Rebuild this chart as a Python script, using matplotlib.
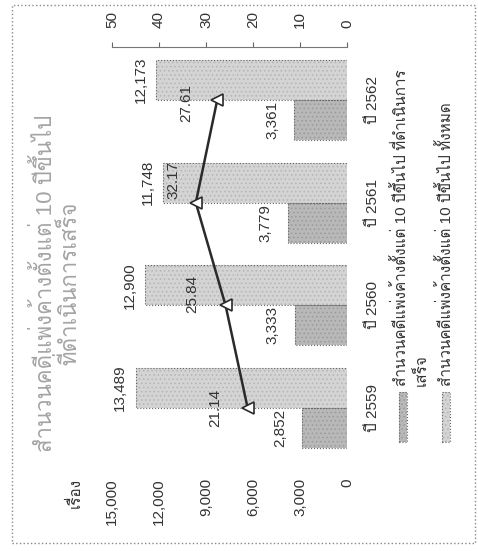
import numpy as np
import matplotlib
matplotlib.use('Agg')
import matplotlib.pyplot as plt
from matplotlib import font_manager
from matplotlib.ft2font import FT2Font
from matplotlib.patches import Rectangle

# ข้อมูล
years = ['ปี 2559', 'ปี 2560', 'ปี 2561', 'ปี 2562']
total = [13489, 12900, 11748, 12173]
done = [2852, 3333, 3779, 3361]
pct = [21.14, 25.84, 32.17, 27.61]
left_ticks = [0, 3000, 6000, 9000, 12000, 15000]
right_ticks = [0, 10, 20, 30, 40, 50]
title = 'สำนวนคดีแพ่งค้างตั้งแต่ 10 ปีขึ้นไป\nที่ดำเนินการเสร็จ'
unit = 'เรื่อง'
leg_done = ['สำนวนคดีแพ่งค้างตั้งแต่ 10 ปีขึ้นไป ที่ดำเนินการ', 'เสร็จ']
leg_total = 'สำนวนคดีแพ่งค้างตั้งแต่ 10 ปีขึ้นไป ทั้งหมด'

# หา font ที่มีอักษรไทย
thai = None
for f in font_manager.fontManager.ttflist:
    try:
        if FT2Font(f.fname).get_char_index(0x0E2A):
            thai = f.name
            break
    except Exception:
        pass
fams = ['Liberation Sans']
if thai:
    fams.append(thai)
fams.append('DejaVu Sans')
plt.rcParams['font.family'] = fams
plt.rcParams['hatch.linewidth'] = 0.6

W, H = 478, 551
fig = plt.figure(figsize=(W / 100, H / 100), dpi=100)

def fx(px):
    return px / W

def fy(py):
    return 1 - py / H

light = '#d4d4d4'
dark = '#b8b8b8'
txt = '#333333'
fs = 11

# พื้นที่กราฟ (หมุน 90 องศา)
top_px, bot_px = 47, 470
step = (408 - 100) / 3
ax = fig.add_axes([fx(112), fy(bot_px), (347 - 112) / W, (bot_px - top_px) / H])
ypos = np.arange(len(years))
w = 0.39
ax.barh(ypos + w / 2, total, height=w, color=light, edgecolor='#b4b4b4', hatch='....', linewidth=0)
ax.barh(ypos - w / 2, done, height=w, color=dark, edgecolor='#9a9a9a', hatch='....', linewidth=0)
ax.barh(ypos + w / 2, total, height=w, fill=False, edgecolor='#666666', linestyle=':', linewidth=0.8)
ax.barh(ypos - w / 2, done, height=w, fill=False, edgecolor='#666666', linestyle=':', linewidth=0.8)
ax.set_xlim(15000, 0)
ax.set_ylim((408 - bot_px) / step, (408 - top_px) / step)
ax.set_xticks(left_ticks)
ax.set_xticklabels(['{:,}'.format(v) for v in left_ticks], rotation=90, va='top', ha='center')
ax.tick_params(axis='x', length=0, pad=6, labelsize=fs, labelcolor=txt)
ax.yaxis.tick_right()
ax.set_yticks(ypos)
ax.set_yticklabels(years, rotation=90, va='center', ha='left')
ax.tick_params(axis='y', length=0, pad=14, labelsize=fs, labelcolor=txt)
for s in ax.spines.values():
    s.set_visible(False)
ax.patch.set_alpha(0)

for i in range(len(years)):
    ax.annotate('{:,}'.format(total[i]), (total[i], ypos[i] + w / 2), xytext=(-6, 0),
                textcoords='offset points', rotation=90, ha='right', va='center',
                fontsize=fs, color=txt)
    ax.annotate('{:,}'.format(done[i]), (done[i], ypos[i] - w / 2), xytext=(-11, 0),
                textcoords='offset points', rotation=90, ha='right', va='center',
                fontsize=fs, color=txt)

# แกนร้อยละ
ax2 = ax.twiny()
ax2.set_xlim(50, 0)
ax2.set_ylim(ax.get_ylim())
ax2.plot(pct, ypos, color='#2a2a2a', linewidth=1.8, marker='<', markersize=9,
         markerfacecolor='white', markeredgecolor='#2a2a2a', markeredgewidth=1.2)
pct_off = [(-18, 0), (-19, 8), (-11, 16), (-17, -2)]
for i in range(len(years)):
    ax2.annotate('{:.2f}'.format(pct[i]), (pct[i], ypos[i]), xytext=pct_off[i],
                 textcoords='offset points', rotation=90, ha='right', va='center',
                 fontsize=fs, color=txt)
ax2.set_xticks(right_ticks)
ax2.set_xticklabels([str(v) for v in right_ticks], rotation=90)
ax2.tick_params(axis='x', direction='out', length=3.5, width=0.8, color='#666666',
                pad=10, labelsize=fs, labelcolor=txt)
for k, s in ax2.spines.items():
    s.set_visible(k == 'top')
ax2.spines['top'].set_color('#777777')
ax2.spines['top'].set_linewidth(0.8)

# ชื่อกราฟ และหน่วย
fig.text(fx(57), fy(283), title, rotation=90, ha='center', va='center',
         multialignment='center', fontsize=16, color='#a4a4a4', linespacing=1.0)
fig.text(fx(75), fy(478), unit, rotation=90, ha='center', va='top', fontsize=fs, color=txt)

# คำอธิบายสัญลักษณ์
for xp, col, hc in [(399, dark, '#9a9a9a'), (442, light, '#b4b4b4')]:
    fig.add_artist(Rectangle((fx(xp), fy(442)), 8 / W, 50 / H, transform=fig.transFigure,
                             facecolor=col, edgecolor=hc, hatch='....', linewidth=0))
    fig.add_artist(Rectangle((fx(xp), fy(442)), 8 / W, 50 / H, transform=fig.transFigure,
                             fill=False, edgecolor='#666666', linestyle=':', linewidth=0.8))
fig.text(fx(401), fy(386), leg_done[0], rotation=90, ha='center', va='bottom', fontsize=fs, color=txt)
fig.text(fx(421), fy(386), leg_done[1], rotation=90, ha='center', va='bottom', fontsize=fs, color=txt)
fig.text(fx(446), fy(386), leg_total, rotation=90, ha='center', va='bottom', fontsize=fs, color=txt)

# กรอบ
fig.add_artist(Rectangle((fx(12), fy(543)), (475 - 12) / W, (543 - 5) / H, transform=fig.transFigure,
                         fill=False, edgecolor='#888888', linestyle=':', linewidth=1.0))

fig.savefig('out.png', dpi=100)
